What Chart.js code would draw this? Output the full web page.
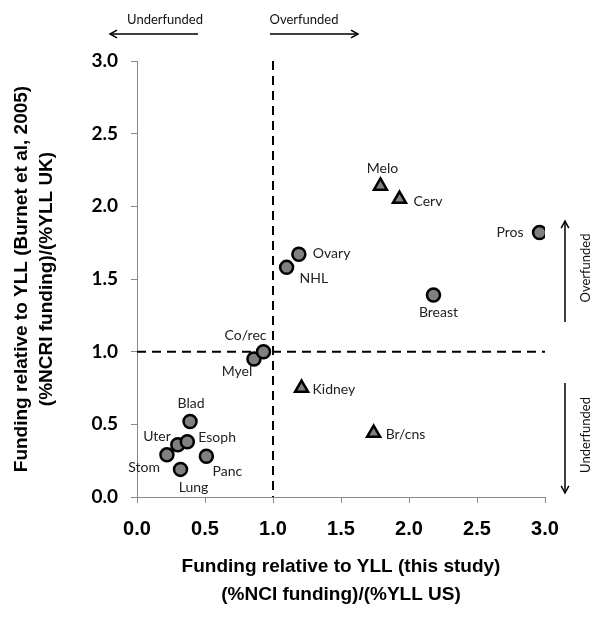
<!DOCTYPE html>
<html>
<head>
<meta charset="utf-8">
<script src="https://cdn.jsdelivr.net/npm/chart.js@4"></script>
<style>
  html,body{margin:0;padding:0;background:#fff;}
  #chart{display:block;}
</style>
</head>
<body>
<canvas id="chart" width="600" height="617"></canvas>
<script>
// circles
const circleNames = ["Blad","Uter","Esoph","Stom","Lung","Panc","Myel","Co/rec","NHL","Ovary","Pros","Breast"];
const circleX = [0.39,0.30,0.37,0.22,0.32,0.51,0.86,0.93,1.10,1.19,2.96,2.18];
const circleY = [0.52,0.36,0.38,0.29,0.19,0.28,0.95,1.00,1.58,1.67,1.82,1.39];
// triangles
const triNames = ["Kidney","Br/cns","Melo","Cerv"];
const triX = [1.21,1.74,1.79,1.93];
const triY = [0.75,0.44,2.14,2.05];
const tickVals = [0,0.5,1,1.5,2,2.5,3];

// label placement (dx, dy, align)
const labelPos = {
  "Melo":[2,-18,"center"], "Cerv":[14,2,"left"], "Pros":[-16,0,"right"],
  "Ovary":[14,-1,"left"], "NHL":[13,11,"left"], "Breast":[5,17,"center"],
  "Co/rec":[-18,-16,"center"], "Myel":[-17,13,"center"], "Kidney":[11,1,"left"],
  "Br/cns":[12,1,"left"], "Blad":[1,-18,"center"], "Uter":[-7,-8,"right"],
  "Esoph":[11,-4,"left"], "Stom":[-7,13,"right"], "Lung":[13,18,"center"],
  "Panc":[21,15,"center"]
};

function pts(xs, ys){ return xs.map((x,i)=>({x, y:ys[i]})); }

function arrow(ctx, x1, y1, x2, y2){
  ctx.beginPath();
  ctx.moveTo(x1,y1); ctx.lineTo(x2,y2);
  ctx.stroke();
  const a = Math.atan2(y2-y1, x2-x1), h = 8;
  ctx.beginPath();
  ctx.moveTo(x2 - h*Math.cos(a-0.5), y2 - h*Math.sin(a-0.5));
  ctx.lineTo(x2,y2);
  ctx.lineTo(x2 - h*Math.cos(a+0.5), y2 - h*Math.sin(a+0.5));
  ctx.stroke();
}

const extras = {
  id:"extras",
  beforeDatasetsDraw(chart){
    const {ctx, scales:{x,y}} = chart;
    ctx.save();
    ctx.strokeStyle = "#000";
    ctx.lineWidth = 2;
    ctx.setLineDash([9,6]);
    ctx.beginPath();
    ctx.moveTo(x.getPixelForValue(1), y.getPixelForValue(3));
    ctx.lineTo(x.getPixelForValue(1), y.getPixelForValue(0));
    ctx.moveTo(x.getPixelForValue(0), y.getPixelForValue(1));
    ctx.lineTo(x.getPixelForValue(3), y.getPixelForValue(1));
    ctx.stroke();
    ctx.restore();
  },
  afterDatasetsDraw(chart){
    const {ctx, scales:{x,y}} = chart;
    ctx.save();
    ctx.fillStyle = "#222";
    ctx.font = "14px Lato";
    ctx.textBaseline = "middle";
    const put = (names, xs, ys) => names.forEach((n,i)=>{
      const p = labelPos[n];
      ctx.textAlign = p[2];
      ctx.fillText(n, x.getPixelForValue(xs[i]) + p[0], y.getPixelForValue(ys[i]) + p[1]);
    });
    put(circleNames, circleX, circleY);
    put(triNames, triX, triY);

    // axis titles
    ctx.fillStyle = "#000";
    ctx.font = "bold 19px 'Liberation Sans', Arial";
    ctx.textAlign = "center";
    const cx = (x.left + x.right)/2;
    ctx.fillText("Funding relative to YLL (this study)", cx, 567);
    ctx.fillText("(%NCI funding)/(%YLL US)", cx, 595);
    ctx.save();
    ctx.translate(22, (y.top + y.bottom)/2);
    ctx.rotate(-Math.PI/2);
    ctx.fillText("Funding relative to YLL (Burnet et al, 2005)", 0, 0);
    ctx.fillText("(%NCRI funding)/(%YLL UK)", 0, 25);
    ctx.restore();

    // funding annotations
    ctx.strokeStyle = "#000";
    ctx.lineWidth = 1.5;
    ctx.font = "13px Lato";
    ctx.fillStyle = "#111";
    ctx.fillText("Underfunded", 165, 20);
    ctx.fillText("Overfunded", 304, 20);
    arrow(ctx, 198, 34, 110, 34);
    arrow(ctx, 270, 34, 358, 34);
    ctx.save();
    ctx.translate(586, 268);
    ctx.rotate(-Math.PI/2);
    ctx.fillText("Overfunded", 0, 0);
    ctx.restore();
    ctx.save();
    ctx.translate(586, 435);
    ctx.rotate(-Math.PI/2);
    ctx.fillText("Underfunded", 0, 0);
    ctx.restore();
    arrow(ctx, 565, 322, 565, 221);
    arrow(ctx, 565, 383, 565, 493);
    ctx.restore();
  }
};

const axisGrid = {display:true, drawOnChartArea:false, drawTicks:true, tickLength:6, color:"#888", lineWidth:1};

new Chart(document.getElementById("chart"), {
  type:"scatter",
  data:{
    datasets:[
      { label:"circles", data:pts(circleX, circleY), pointStyle:"circle", pointRadius:6.5,
        backgroundColor:"#808080", borderColor:"#000", borderWidth:2.5 },
      { label:"triangles", data:pts(triX, triY), pointStyle:"triangle", pointRadius:7.5,
        backgroundColor:"#808080", borderColor:"#000", borderWidth:2.5 }
    ]
  },
  options:{
    responsive:false,
    animation:false,
    layout:{ padding:{ top:61, right:55, left:0, bottom:0 } },
    plugins:{ legend:{ display:false }, tooltip:{ enabled:false } },
    scales:{
      x:{
        type:"linear", min:0, max:3,
        afterBuildTicks: s => { s.ticks = tickVals.map(v=>({value:v})); },
        afterFit: s => { s.height = 120; },
        grid:axisGrid,
        border:{ display:true, color:"#888", width:1 },
        ticks:{ color:"#000", padding:14, maxRotation:0,
          font:{ family:"'Liberation Sans', Arial", size:20, weight:"bold" },
          callback: v => Number(v).toFixed(1) }
      },
      y:{
        type:"linear", min:0, max:3,
        afterBuildTicks: s => { s.ticks = tickVals.map(v=>({value:v})); },
        afterFit: s => { s.width = 137; },
        grid:axisGrid,
        border:{ display:true, color:"#888", width:1 },
        ticks:{ color:"#000", padding:13,
          font:{ family:"Lato", size:19, weight:"bold" },
          callback: v => Number(v).toFixed(1) }
      }
    }
  },
  plugins:[extras]
});
</script>
</body>
</html>
